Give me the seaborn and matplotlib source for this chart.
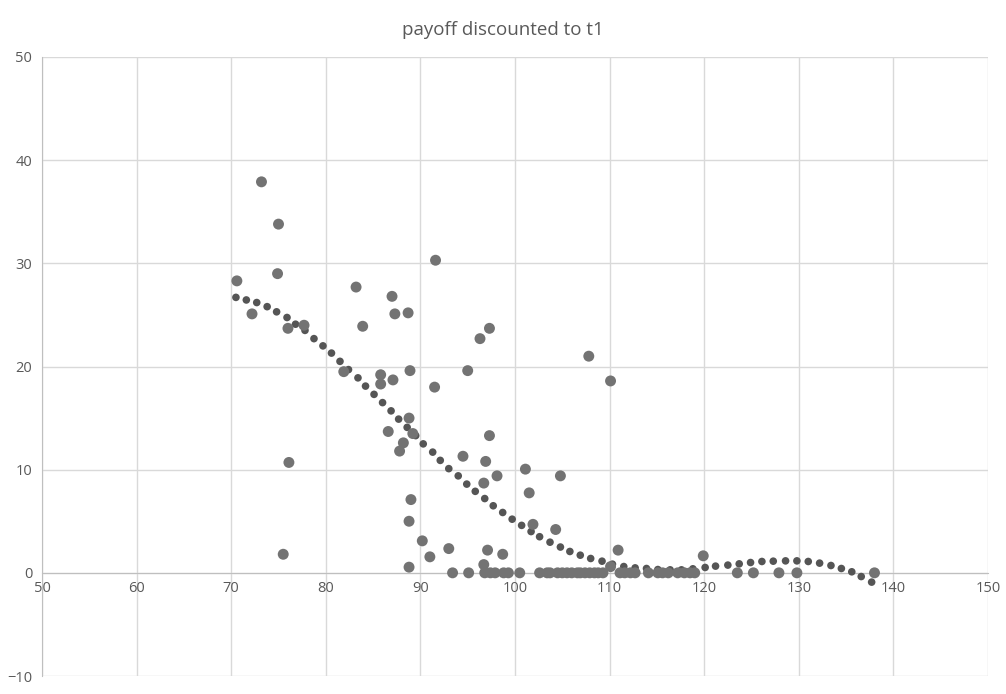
import matplotlib
import numpy as np
import pandas as pd

matplotlib.use('Agg')
import matplotlib.pyplot as plt
import seaborn as sns

# payoff points that are above zero
pos_x = [70.6, 72.2, 73.2, 75.0, 74.9, 76.0, 77.7, 76.1, 75.5, 81.9,
         83.2, 83.9, 85.8, 85.8, 87.0, 87.3, 87.1, 88.7, 88.9, 91.6,
         91.5, 88.8, 86.6, 89.2, 88.2, 87.8, 89.0, 88.8, 90.2, 93.0,
         91.0, 88.8, 96.3, 97.3, 107.8, 110.1, 95.0, 97.3, 94.5, 96.9,
         101.1, 98.1, 104.8, 96.7, 101.5, 101.9, 104.3, 97.1, 98.7, 110.9,
         96.7, 110.1, 119.9]
pos_y = [28.3, 25.1, 37.9, 33.8, 29.0, 23.7, 24.0, 10.7, 1.8, 19.5,
         27.7, 23.9, 19.2, 18.3, 26.8, 25.1, 18.7, 25.2, 19.6, 30.3,
         18.0, 15.0, 13.7, 13.5, 12.6, 11.8, 7.1, 5.0, 3.1, 2.35,
         1.55, 0.55, 22.7, 23.7, 21.0, 18.6, 19.6, 13.3, 11.3, 10.8,
         10.05, 9.4, 9.4, 8.7, 7.75, 4.7, 4.2, 2.2, 1.8, 2.2,
         0.8, 0.6, 1.65]

# points where the payoff is zero
zero_x = [93.4, 95.1, 96.8, 97.4, 97.9, 98.8, 99.3, 100.5, 102.6, 103.4,
          103.7, 104.5, 105.0, 105.5, 106.0, 106.6, 106.9, 107.4, 107.9, 108.4,
          108.8, 109.3, 111.1, 111.6, 112.2, 112.7, 114.1, 115.1, 115.6, 116.2,
          117.2, 117.9, 118.5, 119.0, 123.5, 125.2, 127.9, 129.8, 138.0]

# polynomial trendline
trend_x = [70.5, 71.6, 72.7, 73.8, 74.8, 75.9, 76.8, 77.8, 78.75, 79.7,
           80.6, 81.5, 82.4, 83.4, 84.2, 85.1, 86.0, 86.9, 87.7, 88.6,
           89.5, 90.3, 91.3, 92.1, 93.0, 94.0, 94.9, 95.8, 96.8, 97.7,
           98.7, 99.7, 100.7, 101.7, 102.6, 103.7, 104.8, 105.8, 106.9, 108.0,
           109.2, 110.3, 111.5, 112.7, 113.9, 115.1, 116.4, 117.6, 118.8, 120.1,
           121.2, 122.5, 123.7, 124.9, 126.1, 127.3, 128.6, 129.8, 131.0, 132.2,
           133.4, 134.5, 135.6, 136.6, 137.7]
trend_y = [26.7, 26.45, 26.2, 25.8, 25.3, 24.75, 24.1, 23.5, 22.7, 22.0,
           21.3, 20.5, 19.7, 18.9, 18.1, 17.3, 16.5, 15.7, 14.9, 14.1,
           13.3, 12.5, 11.7, 10.9, 10.1, 9.4, 8.6, 7.9, 7.2, 6.5,
           5.85, 5.2, 4.6, 4.0, 3.5, 2.97, 2.5, 2.07, 1.71, 1.39,
           1.13, 0.84, 0.61, 0.48, 0.42, 0.32, 0.29, 0.29, 0.39, 0.52,
           0.65, 0.75, 0.87, 1.0, 1.1, 1.13, 1.16, 1.16, 1.1, 0.94,
           0.71, 0.42, 0.1, -0.36, -0.9]

df = pd.DataFrame({
    "x": pos_x + zero_x,
    "y": pos_y + [0.0] * len(zero_x),
})
trend = pd.DataFrame({"x": trend_x, "y": trend_y})

sns.set_style("white")
plt.rcParams['font.family'] = ['Open Sans', 'DejaVu Sans']

fig = plt.figure(figsize=(10.06, 6.94), dpi=100)
ax = fig.add_axes([42 / 1006, 18 / 694, 946 / 1006, 619 / 694])

sns.scatterplot(data=trend, x="x", y="y", ax=ax, color="#555555", s=30,
                edgecolor="none", zorder=2)
sns.scatterplot(data=df, x="x", y="y", ax=ax, color="#737373", s=62,
                edgecolor="none", zorder=3)

ax.set_xlim(50, 150)
ax.set_ylim(-10, 50)
ax.set_xticks(range(50, 151, 10))
ax.set_yticks(range(-10, 51, 10))
ax.grid(True, color="#d9d9d9", linewidth=1)
ax.set_axisbelow(True)

for s in ["top", "right"]:
    ax.spines[s].set_visible(False)
ax.spines["bottom"].set_position(("data", 0))
ax.spines["bottom"].set_color("#bfbfbf")
ax.spines["left"].set_color("#bfbfbf")
ax.spines["bottom"].set_zorder(1)
ax.tick_params(length=0, labelsize=10.5, labelcolor="#595959")
ax.tick_params(axis="x", pad=6)
ax.tick_params(axis="y", pad=7)
ax.set_xlabel("")
ax.set_ylabel("")

fig.suptitle("payoff discounted to t1", y=0.97, fontsize=13.5, color="#595959")

fig.savefig("out.png", dpi=100)
